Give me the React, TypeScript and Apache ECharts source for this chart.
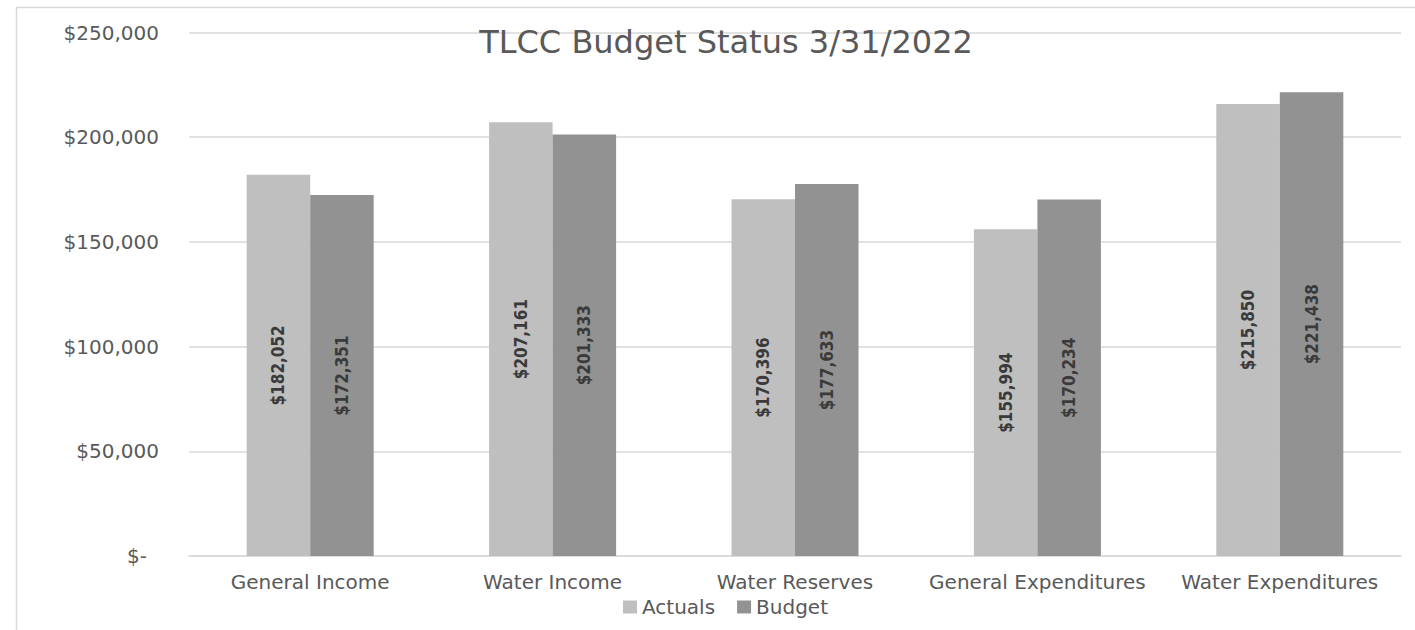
import React, { useEffect, useRef } from "react";
import * as echarts from "echarts";

const categories = [
  "General Income",
  "Water Income",
  "Water Reserves",
  "General Expenditures",
  "Water Expenditures",
];
const actuals = [182052, 207161, 170396, 155994, 215850];
const budget = [172351, 201333, 177633, 170234, 221438];
const seriesNames = ["Actuals", "Budget"];
const titleText = "TLCC Budget Status 3/31/2022";

const fmt = (v: number) => "$" + Math.round(v).toLocaleString("en-US");
const mainFont = "'DejaVu Sans', sans-serif";
const narrowFont = "'Liberation Sans Narrow', 'DejaVu Sans Condensed', 'Roboto', sans-serif";

export default function App() {
  const ref = useRef<HTMLDivElement>(null);
  useEffect(() => {
    if (!ref.current) return;
    const chart = echarts.init(ref.current, null, { renderer: "svg" });
    const barLabel = {
      show: true,
      position: "inside",
      rotate: 90,
      color: "#3a3a3a",
      fontFamily: narrowFont,
      fontWeight: "bold",
      fontSize: 17,
      formatter: (p: any) => fmt(p.value),
    };
    chart.setOption({
      animation: false,
      backgroundColor: "#ffffff",
      title: {
        text: titleText,
        left: 721,
        textAlign: "center",
        top: 21,
        textStyle: {
          color: "#595959",
          fontFamily: mainFont,
          fontSize: 32,
          fontWeight: "normal",
        },
      },
      legend: {
        data: seriesNames,
        left: 618,
        top: 592,
        itemWidth: 14,
        itemHeight: 13,
        itemGap: 22,
        icon: "rect",
        textStyle: { color: "#595959", fontFamily: mainFont, fontSize: 20 },
      },
      grid: { left: 189, right: 14, top: 32.5, bottom: 74, containLabel: false },
      xAxis: {
        type: "category",
        data: categories,
        axisLine: { lineStyle: { color: "#d9d9d9", width: 1.5 } },
        axisTick: { show: false },
        axisLabel: {
          color: "#595959",
          fontFamily: mainFont,
          fontSize: 20,
          margin: 16,
          interval: 0,
        },
      },
      yAxis: {
        type: "value",
        min: 0,
        max: 250000,
        interval: 50000,
        axisLine: { show: false },
        axisTick: { show: false },
        splitLine: { lineStyle: { color: "#d9d9d9", width: 1.5 } },
        axisLabel: {
          color: "#595959",
          fontFamily: mainFont,
          fontSize: 20,
          margin: 30,
          formatter: (v: number) => (v === 0 ? "{z|$-}" : fmt(v)),
          rich: {
            z: {
              color: "#595959",
              fontFamily: mainFont,
              fontSize: 20,
              padding: [0, 12, 0, 0],
            },
          },
        },
      },
      series: [
        {
          name: seriesNames[0],
          type: "bar",
          data: actuals,
          barGap: "0%",
          barCategoryGap: "47.6%",
          itemStyle: { color: "#bfbfbf" },
          label: barLabel,
        },
        {
          name: seriesNames[1],
          type: "bar",
          data: budget,
          itemStyle: { color: "#929292" },
          label: barLabel,
        },
      ],
      graphic: [
        {
          type: "rect",
          shape: { x: 16.5, y: 7.5, width: 1500, height: 700 },
          style: { fill: "none", stroke: "#d9d9d9", lineWidth: 1.5 },
          silent: true,
          z: -1,
        },
      ],
    });
    return () => chart.dispose();
  }, []);
  return (
    <div
      ref={ref}
      style={{ position: "fixed", left: 0, top: 0, width: 1415, height: 630 }}
    />
  );
}
